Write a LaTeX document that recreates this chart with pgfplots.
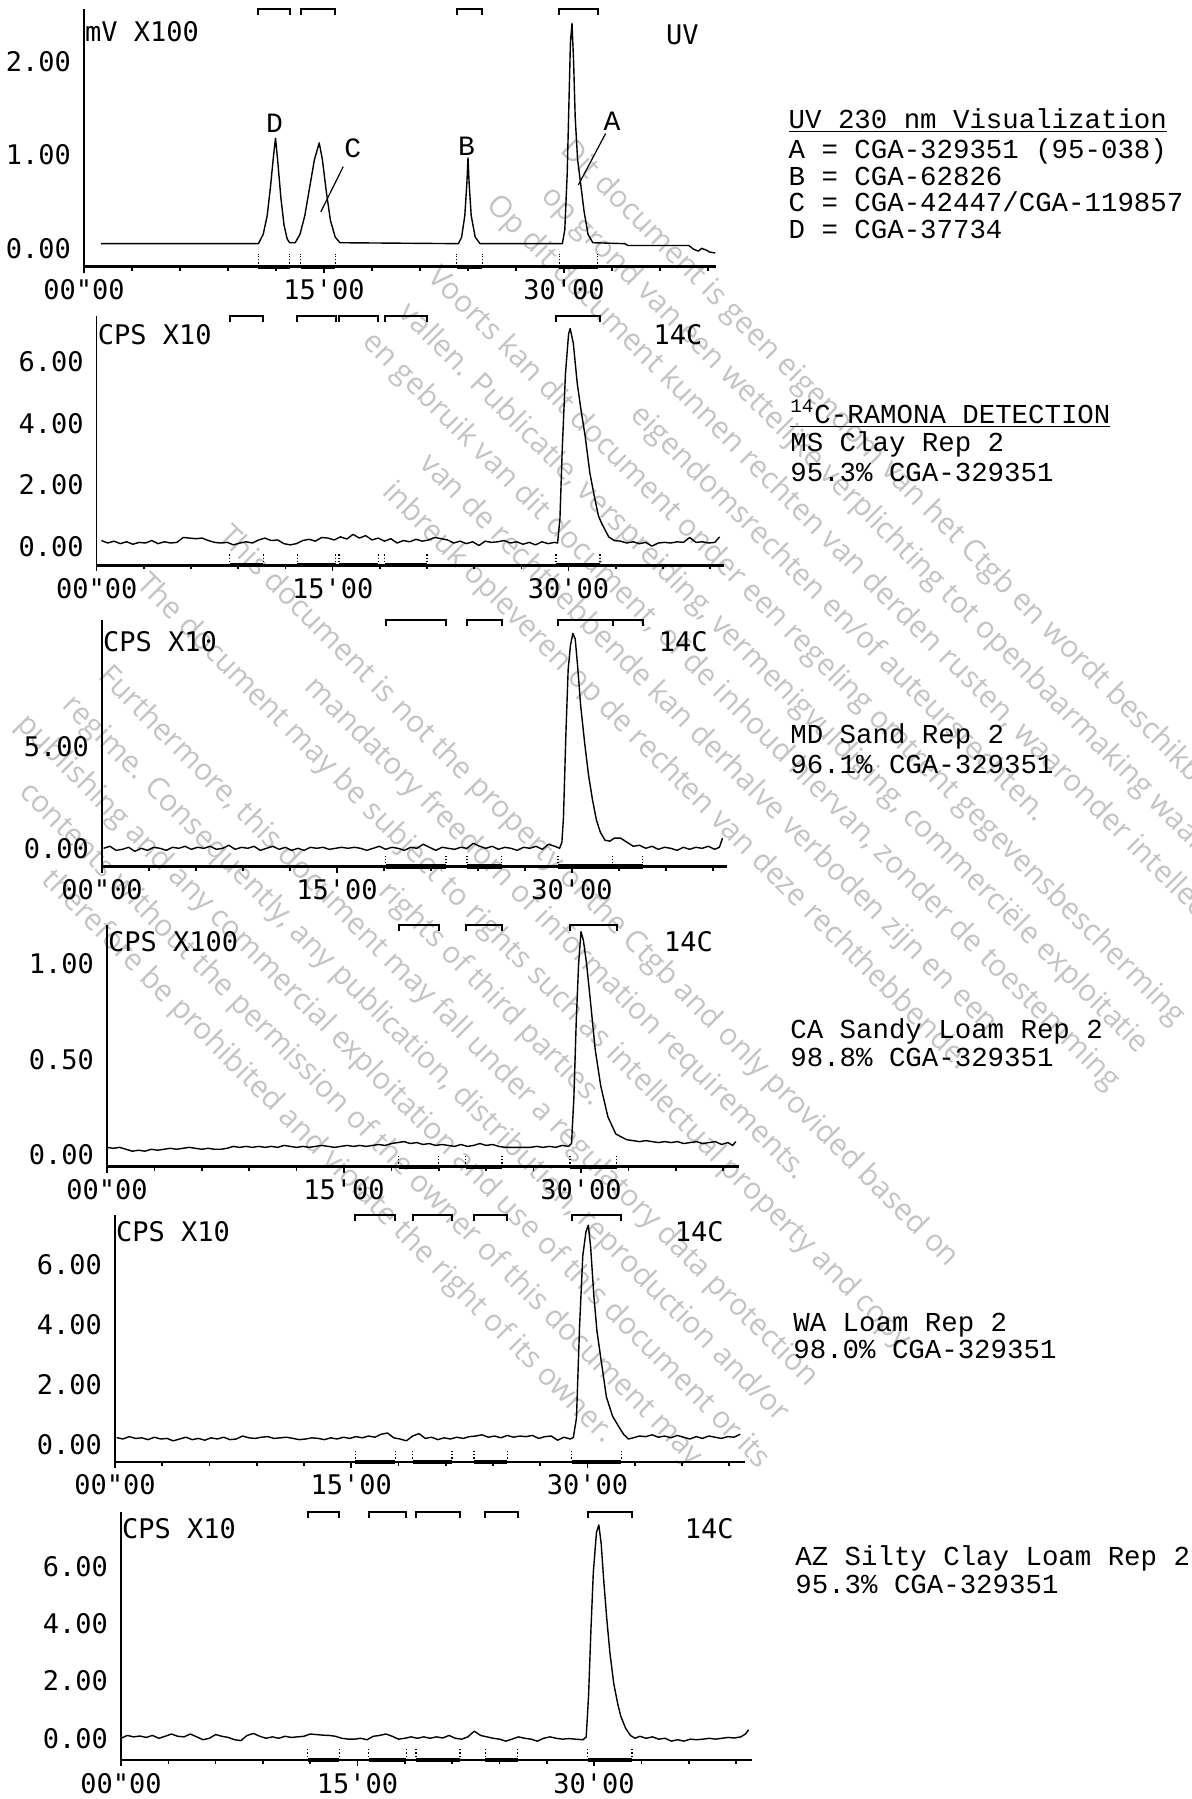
\documentclass[border=0pt]{standalone}
\usepackage{fontspec}
\usepackage{pgfplots}
\pgfplotsset{compat=1.18}
\newfontfamily\dotfont{DejaVu Sans Mono}
\newfontfamily\cour{Liberation Mono}
\newfontfamily\wmfont{Open Sans}
\definecolor{wm}{gray}{0.77}

\pgfplotsset{
 chrom/.style={
   scale only axis,
   anchor=south west,
   axis x line=bottom, axis y line=left,
   axis line style={-},
   x axis line style={line width=1.3pt},
   y axis line style={line width=0.6pt},
   xmin=0,
   xtick={0,15,30},
   xticklabels={{00"00},{15'00},{30'00}},
   minor xtick={3,6,9,12,18,21,24,27,33,36,39},
   tick align=outside,
   major tick length=3pt, minor tick length=2pt,
   every tick/.style={line width=0.8pt},
   ytick style={draw=none},
   tick label style={font=\dotfont\fontsize{13.5}{14}\selectfont},
   clip=false,
 },
 trace/.style={black, line width=0.7pt, line join=round},
}
\tikzset{
 lbl/.style={font=\dotfont\fontsize{13.5}{14}\selectfont, inner sep=0pt},
 pk/.style={font=\cour\fontsize{14}{14}\selectfont, inner sep=0pt},
 rt/.style={font=\cour\fontsize{13.7}{14}\selectfont, inner sep=0pt, anchor=base west},
 wmt/.style={font=\wmfont\fontsize{15}{23}\selectfont, text=wm, align=center, anchor=north, rotate=-45, inner sep=0pt},
}
% integration windows: bracket at the top, thick segment and dotted edges at the bottom
\newcommand\brk[2]{%
 \draw[line width=1pt] ({axis cs:#1,0}|-{rel axis cs:0,0.975}) -- ({axis cs:#1,0}|-{rel axis cs:0,1}) -- ({axis cs:#2,0}|-{rel axis cs:0,1}) -- ({axis cs:#2,0}|-{rel axis cs:0,0.975});
 \draw[line width=2.2pt] ({axis cs:#1,0}|-{rel axis cs:0,0}) -- ({axis cs:#2,0}|-{rel axis cs:0,0});
 \draw[line width=0.6pt, densely dotted] ({axis cs:#1,0}|-{rel axis cs:0,0}) -- ({axis cs:#1,0}|-{rel axis cs:0,0.05});
 \draw[line width=0.6pt, densely dotted] ({axis cs:#2,0}|-{rel axis cs:0,0}) -- ({axis cs:#2,0}|-{rel axis cs:0,0.05});}

\begin{document}
\begin{tikzpicture}
\path[use as bounding box] (0,0) rectangle (596pt,-899.5pt);
% watermark
\begin{scope}
\clip (0,0) rectangle (596pt,-899.5pt);
\node[wmt] at (473.4pt,-252.8pt) {Dit document is geen eigendom van het Ctgb en wordt beschikbaar gesteld\\
op grond van een wettelijke verplichting tot openbaarmaking waaronder\\
Op dit document kunnen rechten van derden rusten, waaronder intellectuele\\
eigendomsrechten en/of auteursrechten.\\
Voorts kan dit document onder een regeling omtrent gegevensbescherming\\
vallen. Publicatie, verspreiding, vermenigvuldiging, commerciële exploitatie\\
en gebruik van dit document, of de inhoud hiervan, zonder de toestemming\\
van de rechthebbende kan derhalve verboden zijn en een\\
inbreuk opleveren op de rechten van deze rechthebbende.};
\node[wmt] at (299.5pt,-443pt) {This document is not the property of the Ctgb and only provided based on\\
mandatory freedom of information requirements.\\
The document may be subject to rights such as intellectual property and copy\\
rights of third parties.\\
Furthermore, this document may fall under a regulatory data protection\\
regime. Consequently, any publication, distribution, reproduction and/or\\
publishing and any commercial exploitation and use of this document or its\\
contents without the permission of the owner of this document may\\
therefore be prohibited and violate the right of its owner.};
\end{scope}

% ---------- Panel 1: UV ----------
\begin{axis}[chrom, at={(42pt,-133.35pt)}, width=316pt, height=129.1pt,
  xmax=39.5, ymin=-0.197, ymax=2.57, ytick={0,1,2}, yticklabels={0.00,1.00,2.00}]
\addplot[trace] coordinates {(1.06,0.05) (10.9,0.05) (11.2,0.15) (11.45,0.35) (11.65,0.65) (11.85,1.0) (11.97,1.18) (12.1,0.95) (12.3,0.55) (12.5,0.25) (12.7,0.1) (12.85,0.06) (13.2,0.06) (13.5,0.15) (13.8,0.35) (14.1,0.65) (14.4,0.95) (14.7,1.13) (14.9,0.95) (15.15,0.6) (15.4,0.3) (15.7,0.12) (16.0,0.06) (23.4,0.05) (23.6,0.12) (23.8,0.35) (23.93,0.7) (24.0,0.97) (24.07,0.7) (24.2,0.35) (24.45,0.12) (24.75,0.05) (29.9,0.05) (30.05,0.2) (30.2,0.8) (30.3,1.5) (30.4,2.2) (30.5,2.41) (30.6,2.0) (30.7,1.4) (30.85,0.95) (31.05,0.68) (31.25,0.4) (31.5,0.15) (31.8,0.06) (33.8,0.05) (34.0,0.03) (37.8,0.03) (38.1,-0.01) (38.4,-0.03) (38.6,0.0) (38.9,-0.02) (39.1,-0.04) (39.45,-0.05)};
\node[lbl, anchor=west] at (axis cs:0.05,2.32) {mV X100};
\node[lbl] at (axis cs:37.4,2.29) {UV};
\node[pk] at (axis cs:11.9,1.34) {D};
\node[pk] at (axis cs:16.8,1.07) {C};
\node[pk] at (axis cs:23.9,1.09) {B};
\node[pk] at (axis cs:33.0,1.36) {A};
\draw[line width=0.6pt] (axis cs:32.6,1.23) -- (axis cs:30.9,0.68);
\draw[line width=0.6pt] (axis cs:16.2,0.875) -- (axis cs:14.8,0.39);
\brk{10.9}{12.85}\brk{13.55}{15.7}\brk{23.3}{24.9}\brk{29.7}{32.1}
\end{axis}

% ---------- Panel 2: MS Clay ----------
\begin{axis}[chrom, at={(48.35pt,-282.6pt)}, width=313.8pt, height=124.85pt,
  xmax=39.9, ymin=-0.6, ymax=7.5, ytick={0,2,4,6}, yticklabels={0.00,2.00,4.00,6.00}]
\addplot[trace] coordinates {(0.3,0.2)(0.7,0.12)(1.1,0.18)(1.5,0.1)(1.9,0.16)(2.3,0.08)(2.7,0.14)(3.1,0.12)(3.5,0.2)(3.9,0.1)(4.3,0.16)(4.7,0.12)(5.1,0.14)(5.5,0.3)(5.9,0.28)(6.3,0.26)(6.7,0.28)(7.1,0.2)(7.5,0.14)(7.9,0.12)(8.3,0.14)(8.7,0.06)(9.1,0.12)(9.5,0.16)(9.9,0.12)(10.3,0.22)(10.7,0.28)(11.1,0.2)(11.5,0.22)(11.9,0.1)(12.3,0.06)(12.7,0.1)(13.1,0.2)(13.5,0.24)(13.9,0.18)(14.3,0.3)(14.7,0.28)(15.1,0.22)(15.5,0.32)(15.9,0.25)(16.3,0.4)(16.7,0.28)(17.1,0.36)(17.5,0.22)(17.9,0.28)(18.3,0.18)(18.7,0.26)(19.1,0.12)(19.5,0.2)(19.9,0.16)(20.3,0.24)(20.7,0.18)(21.1,0.22)(21.5,0.3)(21.9,0.26)(22.3,0.22)(22.7,0.12)(23.1,0.18)(23.5,0.1)(23.9,0.16)(24.3,0.04)(24.7,0.18)(25.1,0.14)(25.5,0.16)(25.9,0.2)(26.3,0.12)(26.7,0.16)(27.1,0.08)(27.5,0.14)(27.9,0.06)(28.3,0.16)(28.7,0.1)(29.1,0.14)(29.3,0.12)(29.45,0.9)(29.6,3.2)(29.8,5.6)(30.0,6.9)(30.1,7.08)(30.3,6.6)(30.55,5.3)(30.8,4.4)(31.05,3.6)(31.35,2.4)(31.65,1.6)(31.9,1.0)(32.1,0.76)(32.55,0.32)(32.9,0.2)(33.3,0.18)(33.7,0.12)(34.1,0.16)(34.5,0.1)(34.9,0.14)(35.3,0.02)(35.7,0.12)(36.1,0.14)(36.5,0.12)(36.9,0.16)(37.3,0.14)(37.7,0.3)(38.1,0.14)(38.5,0.16)(38.9,0.12)(39.3,0.14)(39.6,0.32)};
\node[lbl, anchor=west] at (axis cs:0.05,6.87) {CPS X10};
\node[lbl] at (axis cs:36.95,6.87) {14C};
\brk{8.46}{10.6}\brk{12.75}{15.2}\brk{15.4}{17.9}\brk{18.3}{21.0}\brk{29.2}{32.0}
\end{axis}

% ---------- Panel 3: MD Sand ----------
\begin{axis}[chrom, at={(51pt,-433.3pt)}, width=312.6pt, height=123.3pt,
  xmax=39.9, ymin=-0.9, ymax=11.23, ytick={0,5}, yticklabels={0.00,5.00}]
\addplot[trace] coordinates {(0.1,0.0)(0.5,0.1)(0.9,-0.1)(1.3,-0.05)(1.7,0.05)(2.1,-0.15)(2.5,0.0)(2.9,-0.1)(3.3,0.05)(3.7,0.0)(4.1,-0.1)(4.5,0.05)(4.9,0.0)(5.3,0.1)(5.7,-0.05)(6.1,0.05)(6.5,0.0)(6.9,0.1)(7.3,-0.05)(7.7,0.0)(8.1,0.15)(8.5,-0.05)(8.9,0.05)(9.3,0.0)(9.7,0.1)(10.1,-0.1)(10.5,0.0)(10.9,0.1)(11.3,-0.05)(11.7,0.05)(12.1,-0.1)(12.5,0.0)(12.9,-0.1)(13.3,0.05)(13.7,0.0)(14.1,0.05)(14.5,-0.05)(14.9,0.0)(15.3,0.05)(15.7,0.0)(16.1,0.05)(16.5,0.0)(16.9,-0.1)(17.3,0.0)(17.7,0.1)(18.1,-0.05)(18.5,0.05)(18.9,0.0)(19.3,-0.1)(19.7,0.05)(20.1,0.0)(20.5,0.2)(20.9,0.05)(21.3,-0.1)(21.7,0.05)(22.1,0.0)(22.5,-0.05)(22.9,0.05)(23.3,0.0)(23.7,0.25)(24.1,0.1)(24.5,0.0)(24.9,0.1)(25.3,-0.05)(25.7,0.05)(26.1,0.0)(26.5,-0.1)(26.9,0.05)(27.3,0.0)(27.7,0.1)(28.1,-0.05)(28.5,0.2)(28.9,0.1)(29.2,0.0)(29.35,0.3)(29.45,1.5)(29.6,5.5)(29.75,8.8)(29.9,10.0)(30.05,10.57)(30.2,10.3)(30.35,9.0)(30.55,7.0)(30.8,5.2)(31.05,3.6)(31.3,2.4)(31.55,1.4)(31.8,0.8)(32.1,0.4)(32.4,0.35)(32.7,0.5)(33.1,0.5)(33.5,0.3)(33.9,0.1)(34.3,0.15)(34.7,0.0)(35.1,0.1)(35.5,-0.05)(35.9,0.05)(36.3,0.0)(36.7,-0.1)(37.1,0.05)(37.5,-0.05)(37.9,0.05)(38.3,0.0)(38.7,0.1)(39.1,-0.05)(39.4,0.05)(39.6,0.5)};
\node[lbl, anchor=west] at (axis cs:0.05,10.16) {CPS X10};
\node[lbl] at (axis cs:37.1,10.16) {14C};
\brk{18.1}{21.95}\brk{23.3}{25.5}\brk{29.1}{32.6}\brk{32.6}{34.5}
\end{axis}

% ---------- Panel 4: CA Sandy Loam ----------
\begin{axis}[chrom, at={(53.5pt,-583.35pt)}, width=316pt, height=120.86pt,
  xmax=40, ymin=-0.061, ymax=1.2, ytick={0,0.5,1}, yticklabels={0.00,0.50,1.00}]
\addplot[trace] coordinates {(0.0,0.04)(0.4,0.035)(0.8,0.04)(1.2,0.03)(1.6,0.02)(2.0,0.025)(2.4,0.02)(2.8,0.03)(3.2,0.025)(3.6,0.03)(4.0,0.035)(4.4,0.03)(4.8,0.035)(5.2,0.04)(5.6,0.035)(6.0,0.03)(6.4,0.035)(6.8,0.03)(7.2,0.03)(7.6,0.035)(8.0,0.045)(8.4,0.04)(8.8,0.045)(9.2,0.04)(9.6,0.045)(10.0,0.04)(10.4,0.045)(10.8,0.04)(11.2,0.05)(11.6,0.045)(12.0,0.04)(12.4,0.045)(12.8,0.04)(13.2,0.045)(13.6,0.05)(14.0,0.045)(14.4,0.04)(14.8,0.045)(15.2,0.05)(15.6,0.045)(16.0,0.05)(16.4,0.045)(16.8,0.05)(17.2,0.055)(17.6,0.05)(18.0,0.06)(18.4,0.065)(18.8,0.07)(19.2,0.06)(19.6,0.065)(20.0,0.055)(20.4,0.06)(20.8,0.05)(21.2,0.055)(21.6,0.05)(22.0,0.045)(22.4,0.055)(22.8,0.045)(23.2,0.05)(23.6,0.06)(24.0,0.05)(24.4,0.055)(24.8,0.045)(25.2,0.04)(25.6,0.04)(26.0,0.04)(26.4,0.04)(26.8,0.04)(27.2,0.045)(27.6,0.04)(28.0,0.045)(28.4,0.04)(28.8,0.05)(29.2,0.045)(29.4,0.06)(29.55,0.3)(29.7,0.7)(29.85,1.0)(30.0,1.165)(30.15,1.12)(30.35,1.0)(30.6,0.8)(30.9,0.55)(31.25,0.36)(31.7,0.2)(32.2,0.11)(32.65,0.09)(32.9,0.08)(33.3,0.075)(33.7,0.07)(34.1,0.075)(34.5,0.07)(34.9,0.065)(35.3,0.07)(35.7,0.065)(36.1,0.07)(36.5,0.06)(36.9,0.065)(37.3,0.07)(37.7,0.06)(38.1,0.065)(38.5,0.07)(38.9,0.055)(39.3,0.065)(39.6,0.05)(39.8,0.07)};
\node[lbl, anchor=west] at (axis cs:0.05,1.113) {CPS X100};
\node[lbl] at (axis cs:36.8,1.113) {14C};
\brk{18.45}{21.0}\brk{22.7}{25.0}\brk{29.3}{32.25}
\end{axis}

% ---------- Panel 5: WA Loam ----------
\begin{axis}[chrom, at={(57.5pt,-730.9pt)}, width=315pt, height=123.45pt,
  xmax=40, ymin=-0.56, ymax=7.67, ytick={0,2,4,6}, yticklabels={0.00,2.00,4.00,6.00}]
\addplot[trace] coordinates {(0.1,0.25)(0.5,0.2)(0.9,0.28)(1.3,0.22)(1.7,0.24)(2.1,0.18)(2.5,0.26)(2.9,0.2)(3.3,0.22)(3.7,0.14)(4.1,0.2)(4.5,0.26)(4.9,0.18)(5.3,0.22)(5.7,0.16)(6.1,0.24)(6.5,0.2)(6.9,0.26)(7.3,0.18)(7.7,0.2)(8.1,0.3)(8.5,0.24)(8.9,0.22)(9.3,0.26)(9.7,0.28)(10.1,0.22)(10.5,0.24)(10.9,0.26)(11.3,0.22)(11.7,0.18)(12.1,0.2)(12.5,0.24)(12.9,0.22)(13.3,0.18)(13.7,0.24)(14.1,0.2)(14.5,0.26)(14.9,0.22)(15.3,0.28)(15.7,0.24)(16.1,0.3)(16.5,0.26)(16.9,0.36)(17.3,0.4)(17.7,0.24)(18.1,0.2)(18.5,0.14)(18.9,0.3)(19.3,0.38)(19.7,0.22)(20.1,0.26)(20.5,0.18)(20.9,0.24)(21.3,0.2)(21.7,0.26)(22.1,0.22)(22.5,0.28)(22.9,0.3)(23.3,0.34)(23.7,0.26)(24.1,0.3)(24.5,0.24)(24.9,0.32)(25.3,0.26)(25.7,0.3)(26.1,0.28)(26.5,0.32)(26.9,0.22)(27.3,0.28)(27.7,0.3)(28.1,0.16)(28.5,0.26)(28.9,0.2)(29.1,0.25)(29.3,0.9)(29.5,4.0)(29.7,6.3)(29.9,7.1)(30.05,7.33)(30.2,6.6)(30.4,5.0)(30.6,3.8)(30.9,2.7)(31.2,1.6)(31.6,0.95)(32.0,0.6)(32.3,0.35)(32.6,0.2)(32.9,0.24)(33.3,0.3)(33.7,0.28)(34.1,0.34)(34.5,0.26)(34.9,0.3)(35.3,0.24)(35.7,0.32)(36.1,0.26)(36.5,0.2)(36.9,0.28)(37.3,0.22)(37.7,0.3)(38.1,0.26)(38.5,0.22)(38.9,0.28)(39.3,0.26)(39.7,0.36)};
\node[lbl, anchor=west] at (axis cs:0.05,7.11) {CPS X10};
\node[lbl] at (axis cs:37.1,7.11) {14C};
\brk{15.26}{17.8}\brk{18.9}{21.4}\brk{22.8}{24.9}\brk{29.0}{32.15}
\end{axis}

% ---------- Panel 6: AZ Silty Clay Loam ----------
\begin{axis}[chrom, at={(60.5pt,-880pt)}, width=315.4pt, height=124.1pt,
  xmax=40, ymin=-0.76, ymax=7.92, ytick={0,2,4,6}, yticklabels={0.00,2.00,4.00,6.00}]
\addplot[trace] coordinates {(0.0,0.0)(0.4,0.1)(0.8,0.05)(1.2,0.08)(1.6,0.03)(2.0,0.1)(2.4,0.0)(2.8,0.07)(3.2,0.15)(3.6,0.07)(4.0,0.05)(4.4,0.15)(4.8,0.05)(5.2,-0.05)(5.6,0.0)(6.0,0.13)(6.4,0.07)(6.8,0.03)(7.2,-0.05)(7.6,-0.08)(8.0,0.1)(8.4,0.17)(8.8,0.07)(9.2,0.0)(9.6,0.05)(10.0,0.0)(10.4,0.07)(10.8,0.03)(11.2,0.05)(11.6,0.07)(12.0,0.15)(12.4,0.13)(12.8,0.11)(13.2,0.1)(13.6,0.07)(14.0,0.0)(14.4,-0.03)(14.8,-0.03)(15.2,0.0)(15.6,-0.05)(16.0,0.07)(16.4,0.1)(16.8,0.15)(17.2,0.07)(17.6,-0.03)(18.0,0.0)(18.4,0.05)(18.8,0.0)(19.2,0.05)(19.6,0.0)(20.0,0.05)(20.4,0.01)(20.8,0.1)(21.2,0.0)(21.6,-0.03)(22.0,0.05)(22.4,0.25)(22.8,0.1)(23.2,0.05)(23.6,0.0)(24.0,-0.03)(24.4,-0.1)(24.8,-0.03)(25.2,0.05)(25.6,0.0)(26.0,-0.03)(26.4,-0.1)(26.8,0.0)(27.2,0.05)(27.6,0.0)(28.0,-0.03)(28.4,-0.01)(28.8,-0.03)(29.3,-0.05)(29.5,0.05)(29.65,1.5)(29.8,3.8)(29.95,5.8)(30.15,7.2)(30.3,7.46)(30.45,6.8)(30.6,5.6)(30.8,4.2)(31.0,3.0)(31.25,1.9)(31.5,1.2)(31.7,0.76)(32.0,0.35)(32.3,0.1)(32.6,0.0)(32.9,0.07)(33.3,0.0)(33.7,0.05)(34.1,-0.03)(34.5,0.0)(34.9,-0.1)(35.3,-0.05)(35.7,-0.1)(36.1,-0.03)(36.5,-0.05)(36.9,-0.03)(37.3,0.0)(37.7,-0.03)(38.1,0.0)(38.5,0.03)(38.9,0.01)(39.3,0.05)(39.6,0.15)(39.8,0.3)};
\node[lbl, anchor=west] at (axis cs:0.05,7.34) {CPS X10};
\node[lbl] at (axis cs:37.3,7.34) {14C};
\brk{11.85}{13.85}\brk{15.7}{18.1}\brk{18.7}{21.5}\brk{23.1}{25.15}\brk{29.6}{32.4}
\end{axis}

% ---------- right-hand text ----------
\node[rt] at (394.15pt,-64.15pt) {\underline{UV 230 nm Visualization}};
\node[rt] at (394.15pt,-79.15pt) {A = CGA-329351 (95-038)};
\node[rt] at (394.15pt,-92.5pt) {B = CGA-62826};
\node[rt] at (394.15pt,-105.85pt) {C = CGA-42447/CGA-119857};
\node[rt] at (394.15pt,-119.15pt) {D = CGA-37734};

\node[rt] at (395pt,-211.5pt) {\underline{\textsuperscript{14}C-RAMONA DETECTION}};
\node[rt] at (395pt,-225.5pt) {MS Clay Rep 2};
\node[rt] at (395pt,-240.5pt) {95.3\% CGA-329351};
\node[rt] at (395pt,-371.75pt) {MD Sand Rep 2};
\node[rt] at (395pt,-386.8pt) {96.1\% CGA-329351};
\node[rt] at (395pt,-519.2pt) {CA Sandy Loam Rep 2};
\node[rt] at (395pt,-533pt) {98.8\% CGA-329351};
\node[rt] at (396.5pt,-665.5pt) {WA Loam Rep 2};
\node[rt] at (396.5pt,-679.3pt) {98.0\% CGA-329351};
\node[rt] at (397.5pt,-782.8pt) {AZ Silty Clay Loam Rep 2};
\node[rt] at (397.5pt,-796.65pt) {95.3\% CGA-329351};
\end{tikzpicture}
\end{document}
